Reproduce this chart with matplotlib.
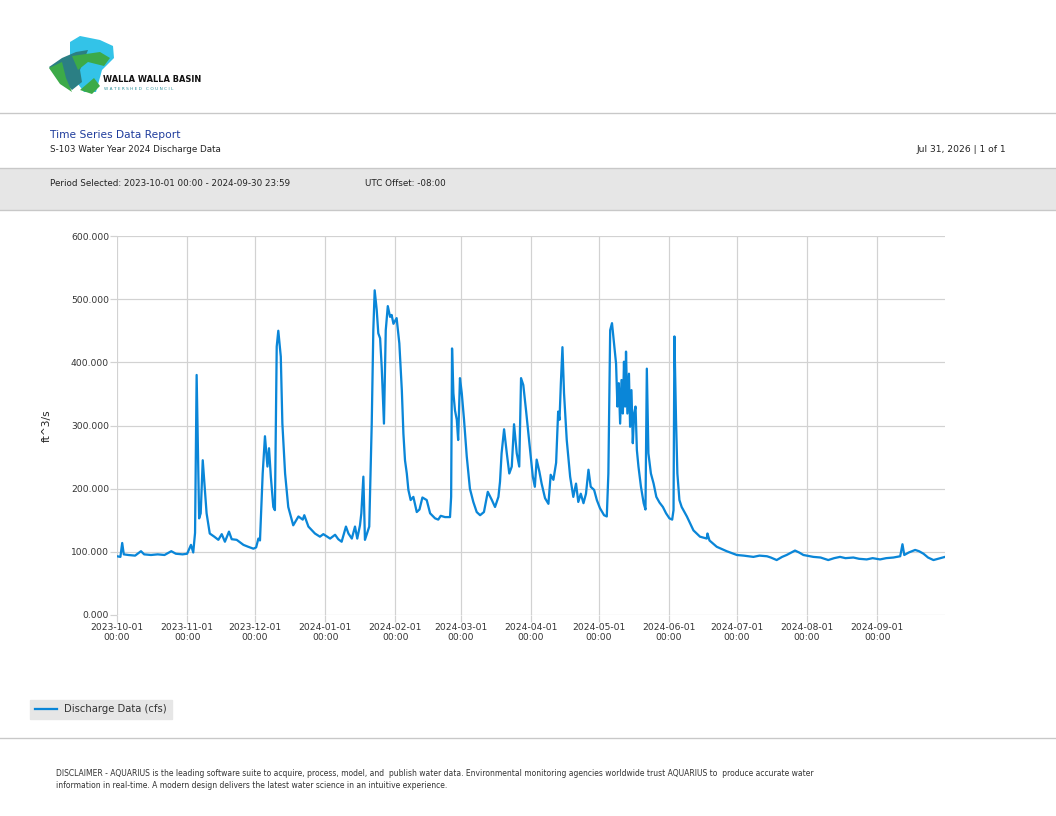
import numpy as np
import matplotlib
matplotlib.use("Agg")
import matplotlib.pyplot as plt
import matplotlib.dates as mdates
from matplotlib.patches import Rectangle, Polygon

# dados: dias desde 2023-10-01 e vazao (cfs)
dias = [0, 1.5, 2.3, 3.0, 5, 8, 10.6, 12, 15, 18, 21, 24, 26, 29, 31, 32.7, 33.7, 34.5,
        35.2, 36.3, 37.0, 37.9, 39.6, 41.0, 43.0, 44.8, 46.3, 47.7, 49.5, 50.7, 52.9,
        55.9, 58.0, 60.3, 61.5, 62.5, 63.2, 64.4, 65.4, 66.5, 67.2, 68.0, 69.1, 69.8,
        70.6, 71.3, 72.4, 73.1, 74.3, 75.7, 77.9, 80.2, 82.1, 82.8, 84.6, 87.5, 89.7,
        91.2, 94.2, 96.4, 97.8, 99.3, 101.2, 102.3, 103.8, 105.2, 106.2, 107.4, 108.0,
        108.9, 109.6, 111.5, 112.6, 113.3, 113.9, 114.8, 115.5, 116.3, 117.0, 118.0,
        118.8, 119.7, 120.7, 121.4, 122.2, 123.6, 124.8, 125.9, 126.6, 127.3, 128.1,
        128.8, 129.8, 131.0, 132.5, 133.7, 135.0, 136.9, 138.4, 140.6, 142.0, 143.1,
        145.0, 147.2, 147.7, 148.1, 148.7, 149.4, 150.2, 150.8, 151.6, 152.4, 153.4,
        154.6, 156.0, 157.5, 159.0, 160.5, 162.2, 163.9, 165.7, 167.1, 168.6, 169.3,
        170.0, 171.1, 172.3, 173.4, 174.5, 175.5, 176.7, 177.8, 178.6, 179.6, 180.8,
        182.3, 183.8, 184.7, 185.5, 186.7, 187.7, 189.2, 190.7, 191.7, 192.9, 194.1,
        195.0, 195.6, 196.2, 196.9, 197.6, 198.8, 200.3, 201.7, 202.9, 203.9, 205.0,
        206.2, 207.3, 208.4, 209.4, 210.9, 212.1, 213.5, 215.3, 216.5, 217.2, 218.0,
        218.8, 219.7, 220.6, 221.2, 221.8, 222.4, 223.0, 223.6, 224.1, 224.6, 225.0,
        225.6, 226.3, 226.8, 227.4, 228.0, 228.6, 229.2, 229.8, 230.5, 231.6, 232.8,
        233.6, 234.2, 234.9, 236.0, 237.2, 238.4, 239.8, 241.3, 242.7, 244.2, 245.4,
        246.0, 246.4, 247.1, 247.7, 248.6, 249.6, 251.9, 254.8, 257.7, 260.7, 261.0,
        261.9, 265.1, 269.5, 274.0, 277.0, 281.3, 284.0, 287.3, 289.0, 291.6, 294.0,
        296.0, 299.7, 301.5, 303.4, 307.8, 311.0, 314.4, 317.0, 319.6, 322.0, 325.5,
        328.0, 331.4, 334.0, 337.3, 340.0, 343.2, 346.2, 347.2, 348.0, 350.0, 352.8,
        354.5, 356.5, 358.5, 360.9, 363.0, 366.0]
vazao = [93, 92, 114, 96, 95, 94, 101, 96, 95, 96, 95, 101, 97, 96, 97, 111, 99, 130,
         380, 153, 161, 245, 161, 129, 124, 119, 128, 116, 132, 120, 119,
         111, 108, 105, 107, 121, 118, 224, 283, 235, 264, 219, 171, 166,
         425, 450, 409, 303, 224, 171, 142, 156, 151, 158, 140, 129, 124,
         128, 121, 127, 120, 116, 140, 129, 121, 140, 121, 142, 161,
         219, 119, 140, 303, 451, 514, 483, 446, 438, 393, 303,
         451, 489, 472, 475, 461, 470, 430, 356, 287, 245, 224,
         198, 182, 187, 163, 167, 186, 182, 161, 153, 151, 157,
         155, 155, 187, 422, 351, 324, 309, 277, 375, 351, 309,
         251, 200, 179, 163, 158, 163, 195, 182, 171, 187, 211,
         256, 294, 256, 224, 235, 302, 256, 235, 375, 364, 324,
         272, 219, 203, 246, 227, 208, 185, 176, 222, 214, 241,
         322, 309, 367, 424, 351, 277, 219, 187, 208, 179, 192,
         177, 192, 230, 203, 198, 182, 169, 158, 156, 224, 451,
         462, 430, 398, 330, 367, 303, 372, 319, 401, 330, 417,
         319, 382, 298, 356, 272, 319, 330, 261, 235, 203, 177,
         167, 390, 256, 224, 208, 187, 178, 171, 161, 153, 151,
         166, 441, 309, 224, 182, 171, 156, 134, 124, 121, 129,
         118, 108, 101, 95, 94, 92, 94, 93, 91, 87, 92,
         95, 102, 99, 95, 92, 91, 87, 90, 92, 90, 91,
         89, 88, 90, 88, 90, 91, 93, 112, 95, 99, 103,
         101, 97, 91, 87, 89, 92]

inicio = np.datetime64("2023-10-01T00:00")
fim = np.datetime64("2024-09-30T23:59")
meses = np.arange(np.datetime64("2023-10"), np.datetime64("2024-10"),
                  np.timedelta64(1, "M")).astype("datetime64[m]")
y_ticks = [0, 100, 200, 300, 400, 500, 600]

tempos = inicio + (np.array(dias) * 24 * 60).astype("timedelta64[m]")

W, H = 1056, 816
fig = plt.figure(figsize=(W / 96, H / 96), dpi=96)

# camada de fundo em pixels para cabecalho e rodape
bg = fig.add_axes([0, 0, 1, 1])
bg.set_xlim(0, W)
bg.set_ylim(H, 0)
bg.axis("off")

linha_cor = "#c8c8c8"
bg.plot([0, W], [113, 113], color=linha_cor, lw=1)
bg.add_patch(Rectangle((0, 168), W, 42, facecolor="#e6e6e6", edgecolor="none"))
bg.plot([0, W], [168, 168], color=linha_cor, lw=1)
bg.plot([0, W], [210, 210], color=linha_cor, lw=1)
bg.plot([0, W], [738, 738], color=linha_cor, lw=1)

# logo simplificado
bg.add_patch(Polygon([[70, 42], [80, 36], [100, 40], [113, 46], [114, 58], [102, 70],
                      [96, 92], [84, 92], [75, 80], [70, 60]],
                     facecolor="#33c3e8", edgecolor="none"))
bg.add_patch(Polygon([[62, 58], [76, 52], [88, 50], [80, 70], [82, 82], [72, 90],
                      [56, 75], [49, 67]],
                     facecolor="#2b7f84", edgecolor="none"))
bg.add_patch(Polygon([[49, 68], [62, 62], [66, 78], [72, 92], [60, 84]],
                      facecolor="#3caa48", edgecolor="none"))
bg.add_patch(Polygon([[72, 56], [100, 52], [110, 58], [104, 66], [88, 62], [78, 70]],
                      facecolor="#3caa48", edgecolor="none"))
bg.add_patch(Polygon([[80, 90], [94, 78], [100, 86], [92, 94]],
                      facecolor="#3caa48", edgecolor="none"))
bg.text(103, 80, "WALLA WALLA BASIN", fontsize=6.2, fontweight="bold",
        va="center", ha="left", color="#111111")
bg.text(104, 89, "W A T E R S H E D   C O U N C I L", fontsize=3.2, va="center",
        ha="left", color="#2b8f9a")

# textos do cabecalho
bg.text(50, 135, "Time Series Data Report", fontsize=8.0, color="#1f3c9c",
        va="center", ha="left")
bg.text(50, 149, "S-103 Water Year 2024 Discharge Data", fontsize=6.6,
        color="#222222", va="center", ha="left")
bg.text(1006, 149, "Jul 31, 2026 | 1 of 1", fontsize=6.8, color="#222222",
        va="center", ha="right")
bg.text(50, 183, "Period Selected: 2023-10-01 00:00 - 2024-09-30 23:59", fontsize=6.6,
        color="#222222", va="center", ha="left")
bg.text(365, 183, "UTC Offset: -08:00", fontsize=6.6, color="#222222",
        va="center", ha="left")

# rodape
bg.text(56, 774, "DISCLAIMER - AQUARIUS is the leading software suite to acquire, process, "
        "model, and  publish water data. Environmental monitoring agencies worldwide trust "
        "AQUARIUS to  produce accurate water", fontsize=5.7, color="#333333",
        va="center", ha="left")
bg.text(56, 786, "information in real-time. A modern design delivers the latest water "
        "science in an intuitive experience.", fontsize=5.7, color="#333333",
        va="center", ha="left")

# grafico principal
ax = fig.add_axes([117 / W, 1 - 615 / H, (945 - 117) / W, (615 - 236) / H])
ax.set_facecolor("none")
linha, = ax.plot(tempos, vazao, color="#0a86d8", lw=1.7,
                 label="Discharge Data (cfs)", solid_joinstyle="round")

ax.set_xlim(inicio, fim)
ax.set_ylim(0, 600)
ax.set_xticks(meses)
ax.xaxis.set_major_formatter(mdates.DateFormatter("%Y-%m-%d\n%H:%M"))
ax.set_yticks(y_ticks)
ax.set_yticklabels([f"{v:.3f}" for v in y_ticks])
ax.grid(True, color="#d2d2d2", lw=0.9)
for s in ax.spines.values():
    s.set_visible(False)
ax.tick_params(axis="both", length=5, width=0.9, color="#d2d2d2",
               labelsize=6.8, labelcolor="#333333", pad=1)
ax.set_ylabel("ft^3/s", fontsize=8, color="#222222", labelpad=14)

leg = fig.legend(handles=[linha], loc="upper left",
                 bbox_to_anchor=(30 / W, 1 - 700 / H), frameon=True,
                 fancybox=False, facecolor="#e6e6e6", edgecolor="#e6e6e6",
                 framealpha=1, fontsize=7.5, handlelength=2.2,
                 borderpad=0.45, borderaxespad=0)
for t in leg.get_texts():
    t.set_color("#333333")

fig.savefig("out.png", dpi=96)
